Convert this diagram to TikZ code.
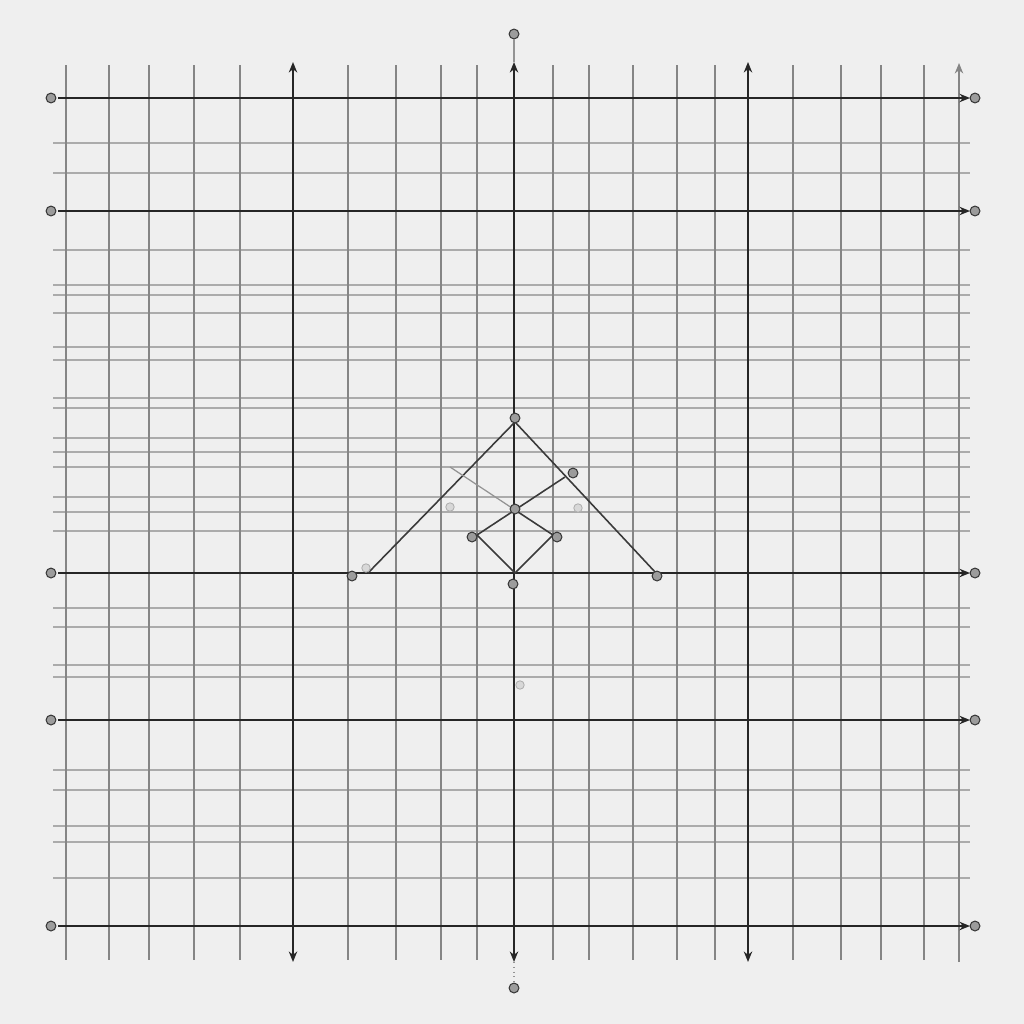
\documentclass[tikz,border=0pt]{standalone}
\usetikzlibrary{arrows.meta}
\definecolor{paper}{HTML}{EFEFEF}
\definecolor{hgrid}{HTML}{ABABAB}
\definecolor{vgrid}{HTML}{858585}
\definecolor{axis}{HTML}{262626}
\definecolor{ink}{HTML}{3A3A3A}
\tikzset{
  hthin/.style={draw=hgrid, line width=0.35pt},
  vthin/.style={draw=vgrid, line width=0.35pt},
  thickline/.style={draw=axis, line width=0.8pt},
  tipped/.style={-{Stealth[length=3pt,width=2.4pt]}},
  bitipped/.style={{Stealth[length=3pt,width=2.4pt]}-{Stealth[length=3pt,width=2.4pt]}},
  figline/.style={draw=ink, line width=0.45pt},
  faintline/.style={draw=ink!55, line width=0.35pt},
  scrib/.style={circle, draw=ink, fill=ink!50, line width=0.3pt, inner sep=0pt, minimum size=2.8pt},
  fscrib/.style={circle, draw=ink!40, fill=ink!20, line width=0.25pt, inner sep=0pt, minimum size=2.4pt},
}
\begin{document}
\begin{tikzpicture}[x=0.01cm,y=-0.01cm]
\fill[paper] (0,0) rectangle (1024,1024);
\useasboundingbox (0,0) rectangle (1024,1024);
% thin horizontal grid
\foreach \y in {143,173,250,285,295,313,347,360,398,408,438,452,467,497,512,531,608,627,665,677,770,790,826,842,878}
  \draw[hthin] (53,\y) -- (970,\y);
% thin vertical grid
\foreach \x in {66,109,149,194,240,348,396,441,477,553,589,633,677,715,793,841,881,924}
  \draw[vthin] (\x,65) -- (\x,960);
\draw[vthin,tipped] (959,962) -- (959,63);
% thick horizontals
\foreach \y [count=\i] in {98,211,573,720,926} {
  \coordinate (hl\i) at (58,\y);
  \coordinate (hr\i) at (970,\y);
  \draw[thickline,tipped] (hl\i) -- (hr\i);
  \node[scrib] (lbl\i) at (51,\y) {};
  \node[scrib] (lbr\i) at (975,\y) {};
}
% thick verticals
\foreach \x [count=\i] in {293,514,748} {
  \coordinate (vt\i) at (\x,62);
  \coordinate (vb\i) at (\x,962);
  \draw[thickline,bitipped] (vb\i) -- (vt\i);
}
\node[scrib] (ytop) at (514,34) {};
\node[scrib] (ybot) at (514,988) {};
\draw[faintline] (ytop) -- (vt2);
\draw[faintline,densely dotted] (vb2) -- (ybot);
% figure
\coordinate (A) at (515,422);
\coordinate (L) at (368,573);
\coordinate (R) at (656,573);
\coordinate (C) at (515,510);
\coordinate (DL) at (477,535);
\coordinate (DR) at (553,535);
\coordinate (DB) at (515,573);
\coordinate (E1) at (565,477);
\coordinate (E2) at (450,467);
\draw[figline] (L) -- (A) -- (R);
\draw[figline] (DL) -- (E1);
\draw[figline] (DR) -- (C);
\draw[faintline] (C) -- (E2);
\draw[figline] (DL) -- (DB) -- (DR);
\node[scrib] (pA) at (515,418) {};
\node[scrib] (pL) at (352,576) {};
\node[fscrib] (pL2) at (366,568) {};
\node[scrib] (pR) at (657,576) {};
\node[scrib] (pC) at (515,509) {};
\node[scrib] (pDL) at (472,537) {};
\node[scrib] (pDR) at (557,537) {};
\node[scrib] (pE1) at (573,473) {};
\node[scrib] (pDB) at (513,584) {};
\node[fscrib] (pm1) at (450,507) {};
\node[fscrib] (pm2) at (578,508) {};
\node[fscrib] (pm3) at (520,685) {};
\end{tikzpicture}
\end{document}
